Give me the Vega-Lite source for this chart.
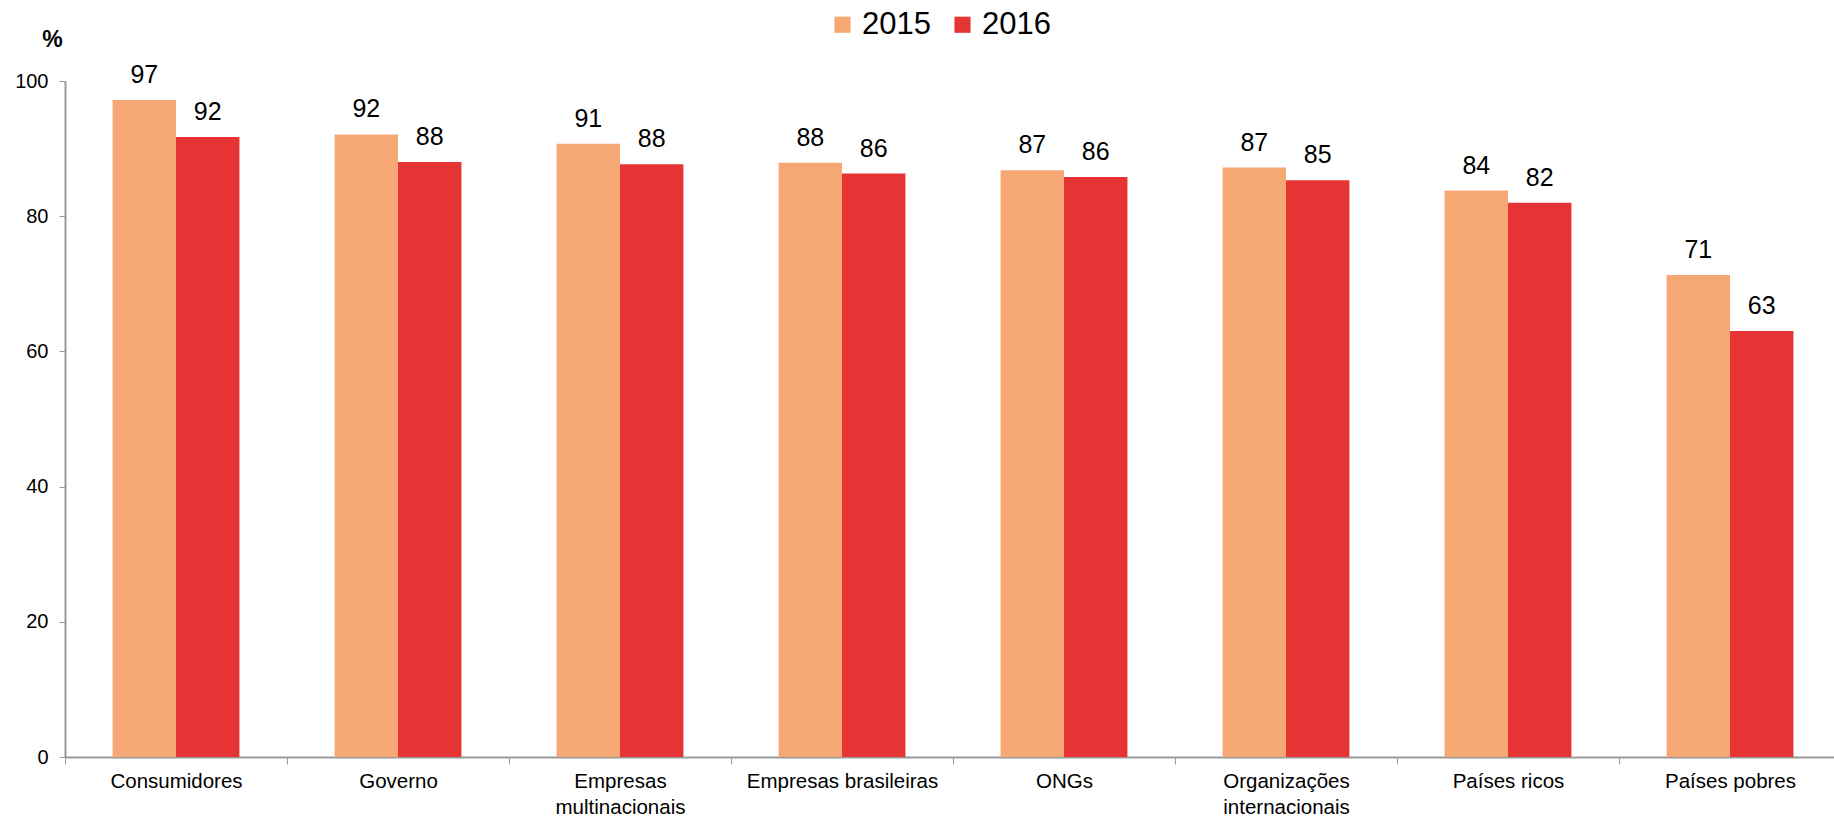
{
  "$schema": "https://vega.github.io/schema/vega-lite/v6.json",
  "autosize": {"type": "none"},
  "width": 1776,
  "height": 676,
  "padding": {"left": 65, "top": 81, "right": 0, "bottom": 59},
  "background": "white",
  "config": {"view": {"stroke": null}, "font": "Liberation Sans"},
  "data": {
    "values": [
      {"categoria": "Consumidores", "ano": "2015", "valor": 97.2},
      {"categoria": "Consumidores", "ano": "2016", "valor": 91.7},
      {"categoria": "Governo", "ano": "2015", "valor": 92.1},
      {"categoria": "Governo", "ano": "2016", "valor": 88.0},
      {"categoria": "Empresas multinacionais", "ano": "2015", "valor": 90.7},
      {"categoria": "Empresas multinacionais", "ano": "2016", "valor": 87.7},
      {"categoria": "Empresas brasileiras", "ano": "2015", "valor": 87.9},
      {"categoria": "Empresas brasileiras", "ano": "2016", "valor": 86.3},
      {"categoria": "ONGs", "ano": "2015", "valor": 86.8},
      {"categoria": "ONGs", "ano": "2016", "valor": 85.8},
      {"categoria": "Organizações internacionais", "ano": "2015", "valor": 87.2},
      {"categoria": "Organizações internacionais", "ano": "2016", "valor": 85.3},
      {"categoria": "Países ricos", "ano": "2015", "valor": 83.8},
      {"categoria": "Países ricos", "ano": "2016", "valor": 82.0},
      {"categoria": "Países pobres", "ano": "2015", "valor": 71.3},
      {"categoria": "Países pobres", "ano": "2016", "valor": 63.0}
    ]
  },
  "encoding": {
    "x": {
      "field": "categoria",
      "type": "nominal",
      "sort": null,
      "scale": {"paddingInner": 0, "paddingOuter": 0},
      "axis": {
        "title": null,
        "labelAngle": 0,
        "labelFontSize": 20.5,
        "labelColor": "#000000",
        "labelPadding": 7,
        "labelLineHeight": 26,
        "labelLimit": 0,
        "labelExpr": "datum.value == 'Empresas multinacionais' ? ['Empresas', 'multinacionais'] : datum.value == 'Organizações internacionais' ? ['Organizações', 'internacionais'] : datum.value",
        "tickBand": "extent",
        "tickSize": 7,
        "tickColor": "#999999",
        "domainColor": "#999999",
        "domainWidth": 2,
        "grid": false
      }
    },
    "xOffset": {
      "field": "ano",
      "type": "nominal",
      "scale": {"paddingInner": 0, "paddingOuter": 0.75}
    },
    "y": {
      "field": "valor",
      "type": "quantitative",
      "scale": {"domain": [0, 100]},
      "axis": {
        "title": "%",
        "titleAngle": 0,
        "titleX": -13,
        "titleY": -42,
        "titleAlign": "center",
        "titleBaseline": "middle",
        "titleFontSize": 23,
        "titleFontWeight": "bold",
        "titleColor": "#000000",
        "values": [0, 20, 40, 60, 80, 100],
        "labelFontSize": 20,
        "labelColor": "#000000",
        "labelPadding": 11,
        "tickSize": 6,
        "tickColor": "#999999",
        "domainColor": "#999999",
        "domainWidth": 2,
        "grid": false
      }
    }
  },
  "layer": [
    {
      "mark": {"type": "bar"},
      "encoding": {
        "color": {
          "field": "ano",
          "type": "nominal",
          "scale": {"domain": ["2015", "2016"], "range": ["#F5A873", "#E63334"]},
          "legend": {
            "title": null,
            "orient": "none",
            "direction": "horizontal",
            "legendX": 762,
            "legendY": -72,
            "symbolType": "square",
            "symbolSize": 260,
            "symbolStrokeWidth": 0,
            "labelFontSize": 31,
            "labelColor": "#000000",
            "labelOffset": 4,
            "columnPadding": 16
          }
        }
      }
    },
    {
      "mark": {"type": "text", "baseline": "bottom", "dy": -12, "fontSize": 25, "color": "#000000"},
      "encoding": {
        "text": {"field": "valor", "type": "quantitative", "format": ".0f"}
      }
    }
  ]
}
